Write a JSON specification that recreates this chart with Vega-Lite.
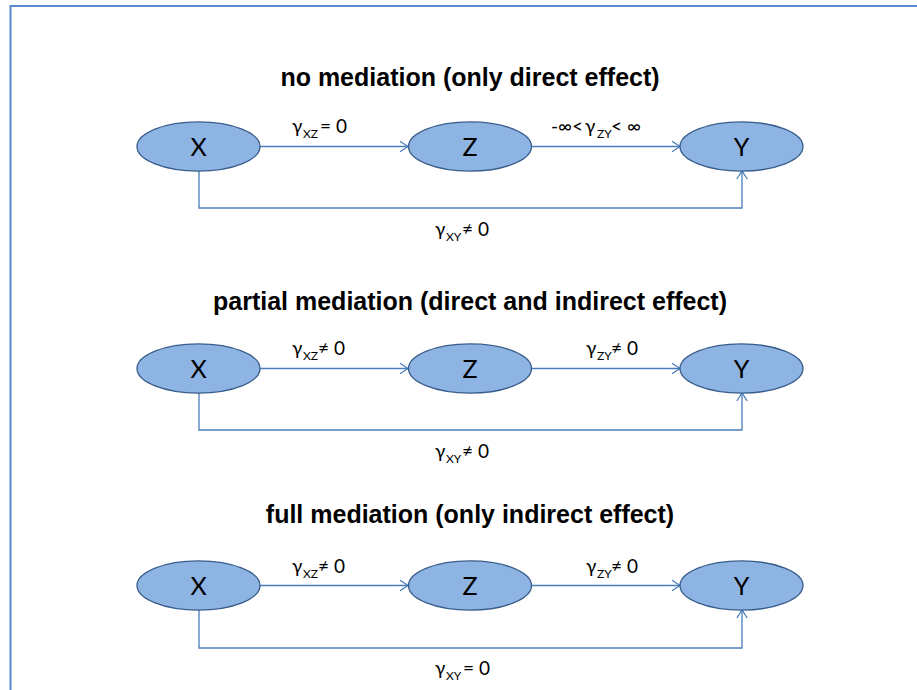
{
  "$schema": "https://vega.github.io/schema/vega-lite/v6.json",
  "width": 917,
  "height": 690,
  "padding": 0,
  "autosize": "none",
  "background": "white",
  "config": {"view": {"stroke": null}},
  "datasets": {
    "frame": [
      {"x": 10.5, "y": 690, "order": 1},
      {"x": 10.5, "y": 6, "order": 2},
      {"x": 917, "y": 6, "order": 3}
    ],
    "edges": [
      {"path": "p1xz", "order": 1, "x": 260, "y": 146.5},
      {"path": "p1xz", "order": 2, "x": 408, "y": 146.5},
      {"path": "p1zy", "order": 1, "x": 532, "y": 146.5},
      {"path": "p1zy", "order": 2, "x": 680, "y": 146.5},
      {"path": "p1xy", "order": 1, "x": 199, "y": 171},
      {"path": "p1xy", "order": 2, "x": 199, "y": 208},
      {"path": "p1xy", "order": 3, "x": 742, "y": 208},
      {"path": "p1xy", "order": 4, "x": 742, "y": 171},
      {"path": "p2xz", "order": 1, "x": 260, "y": 368.5},
      {"path": "p2xz", "order": 2, "x": 408, "y": 368.5},
      {"path": "p2zy", "order": 1, "x": 532, "y": 368.5},
      {"path": "p2zy", "order": 2, "x": 680, "y": 368.5},
      {"path": "p2xy", "order": 1, "x": 199, "y": 393},
      {"path": "p2xy", "order": 2, "x": 199, "y": 430},
      {"path": "p2xy", "order": 3, "x": 742, "y": 430},
      {"path": "p2xy", "order": 4, "x": 742, "y": 393},
      {"path": "p3xz", "order": 1, "x": 260, "y": 585.5},
      {"path": "p3xz", "order": 2, "x": 408, "y": 585.5},
      {"path": "p3zy", "order": 1, "x": 532, "y": 585.5},
      {"path": "p3zy", "order": 2, "x": 680, "y": 585.5},
      {"path": "p3xy", "order": 1, "x": 199, "y": 610},
      {"path": "p3xy", "order": 2, "x": 199, "y": 648},
      {"path": "p3xy", "order": 3, "x": 742, "y": 648},
      {"path": "p3xy", "order": 4, "x": 742, "y": 610}
    ],
    "heads": [
      {"dir": "right", "x": 408, "y": 146.5},
      {"dir": "right", "x": 680, "y": 146.5},
      {"dir": "up", "x": 742, "y": 171},
      {"dir": "right", "x": 408, "y": 368.5},
      {"dir": "right", "x": 680, "y": 368.5},
      {"dir": "up", "x": 742, "y": 393},
      {"dir": "right", "x": 408, "y": 585.5},
      {"dir": "right", "x": 680, "y": 585.5},
      {"dir": "up", "x": 742, "y": 610}
    ],
    "nodes": [
      {"node": "X", "x": 198.5, "y": 146.5},
      {"node": "Z", "x": 470, "y": 146.5},
      {"node": "Y", "x": 741.5, "y": 146.5},
      {"node": "X", "x": 198.5, "y": 368.5},
      {"node": "Z", "x": 470, "y": 368.5},
      {"node": "Y", "x": 741.5, "y": 368.5},
      {"node": "X", "x": 198.5, "y": 585.5},
      {"node": "Z", "x": 470, "y": 585.5},
      {"node": "Y", "x": 741.5, "y": 585.5}
    ],
    "titles": [
      {"x": 470, "y": 86, "text": "no mediation (only direct effect)"},
      {"x": 470, "y": 310, "text": "partial mediation (direct and indirect effect)"},
      {"x": 470, "y": 523, "text": "full mediation (only indirect effect)"}
    ],
    "labels": [
      {"part": "main", "x": 292, "y": 133, "text": "γ"},
      {"part": "sub", "x": 303, "y": 138, "text": "XZ"},
      {"part": "main", "x": 320, "y": 133, "text": "= 0"},
      {"part": "main", "x": 551, "y": 133, "text": "-∞<"},
      {"part": "main", "x": 585, "y": 133, "text": "γ"},
      {"part": "sub", "x": 597, "y": 138, "text": "ZY"},
      {"part": "main", "x": 611, "y": 133, "text": "< ∞"},
      {"part": "main", "x": 435, "y": 236, "text": "γ"},
      {"part": "sub", "x": 446, "y": 241, "text": "XY"},
      {"part": "main", "x": 462, "y": 236, "text": "≠ 0"},
      {"part": "main", "x": 292, "y": 355, "text": "γ"},
      {"part": "sub", "x": 303, "y": 360, "text": "XZ"},
      {"part": "main", "x": 318, "y": 355, "text": "≠ 0"},
      {"part": "main", "x": 586, "y": 355, "text": "γ"},
      {"part": "sub", "x": 597, "y": 360, "text": "ZY"},
      {"part": "main", "x": 611, "y": 355, "text": "≠ 0"},
      {"part": "main", "x": 435, "y": 458, "text": "γ"},
      {"part": "sub", "x": 446, "y": 463, "text": "XY"},
      {"part": "main", "x": 462, "y": 458, "text": "≠ 0"},
      {"part": "main", "x": 292, "y": 573, "text": "γ"},
      {"part": "sub", "x": 303, "y": 578, "text": "XZ"},
      {"part": "main", "x": 318, "y": 573, "text": "≠ 0"},
      {"part": "main", "x": 586, "y": 573, "text": "γ"},
      {"part": "sub", "x": 597, "y": 578, "text": "ZY"},
      {"part": "main", "x": 611, "y": 573, "text": "≠ 0"},
      {"part": "main", "x": 435, "y": 675, "text": "γ"},
      {"part": "sub", "x": 446, "y": 680, "text": "XY"},
      {"part": "main", "x": 463, "y": 675, "text": "= 0"}
    ]
  },
  "encoding": {
    "x": {"field": "x", "type": "quantitative", "scale": {"domain": [0, 917], "nice": false, "zero": false}, "axis": null},
    "y": {"field": "y", "type": "quantitative", "scale": {"domain": [0, 690], "nice": false, "zero": false, "reverse": true}, "axis": null}
  },
  "layer": [
    {
      "data": {"name": "frame"},
      "mark": {"type": "line", "color": "#5B8BD0", "strokeWidth": 2},
      "encoding": {"order": {"field": "order", "type": "quantitative"}}
    },
    {
      "data": {"name": "edges"},
      "mark": {"type": "line", "color": "#4A7EBB", "strokeWidth": 1.3},
      "encoding": {
        "detail": {"field": "path", "type": "nominal"},
        "order": {"field": "order", "type": "quantitative"}
      }
    },
    {
      "data": {"name": "heads"},
      "transform": [{"filter": "datum.dir === 'right'"}],
      "mark": {"type": "point", "shape": "M -1 -0.65 L 0 0 L -1 0.65", "size": 256, "filled": false, "stroke": "#4A7EBB", "strokeWidth": 1.3, "opacity": 1, "angle": 0}
    },
    {
      "data": {"name": "heads"},
      "transform": [{"filter": "datum.dir === 'up'"}],
      "mark": {"type": "point", "shape": "M -1 -0.65 L 0 0 L -1 0.65", "size": 256, "filled": false, "stroke": "#4A7EBB", "strokeWidth": 1.3, "opacity": 1, "angle": 270}
    },
    {
      "data": {"name": "nodes"},
      "mark": {
        "type": "point",
        "shape": "M -1 0 C -1 -0.221 -0.552 -0.4 0 -0.4 C 0.552 -0.4 1 -0.221 1 0 C 1 0.221 0.552 0.4 0 0.4 C -0.552 0.4 -1 0.221 -1 0 Z",
        "size": 15129,
        "filled": true,
        "fill": "#8EB4E3",
        "fillOpacity": 1,
        "stroke": "#385D8A",
        "strokeWidth": 1.3,
        "opacity": 1
      }
    },
    {
      "data": {"name": "nodes"},
      "mark": {"type": "text", "font": "Lato", "fontSize": 25, "align": "center", "baseline": "middle", "dy": 1, "color": "black"},
      "encoding": {"text": {"field": "node", "type": "nominal"}}
    },
    {
      "data": {"name": "titles"},
      "mark": {"type": "text", "font": "Liberation Sans", "fontWeight": "bold", "fontSize": 25, "align": "center", "baseline": "alphabetic", "color": "black"},
      "encoding": {"text": {"field": "text", "type": "nominal"}}
    },
    {
      "data": {"name": "labels"},
      "transform": [{"filter": "datum.part === 'main'"}],
      "mark": {"type": "text", "font": "Lato", "fontSize": 19, "align": "left", "baseline": "alphabetic", "color": "black"},
      "encoding": {"text": {"field": "text", "type": "nominal"}}
    },
    {
      "data": {"name": "labels"},
      "transform": [{"filter": "datum.part === 'sub'"}],
      "mark": {"type": "text", "font": "Lato", "fontSize": 12, "align": "left", "baseline": "alphabetic", "color": "black"},
      "encoding": {"text": {"field": "text", "type": "nominal"}}
    }
  ]
}
